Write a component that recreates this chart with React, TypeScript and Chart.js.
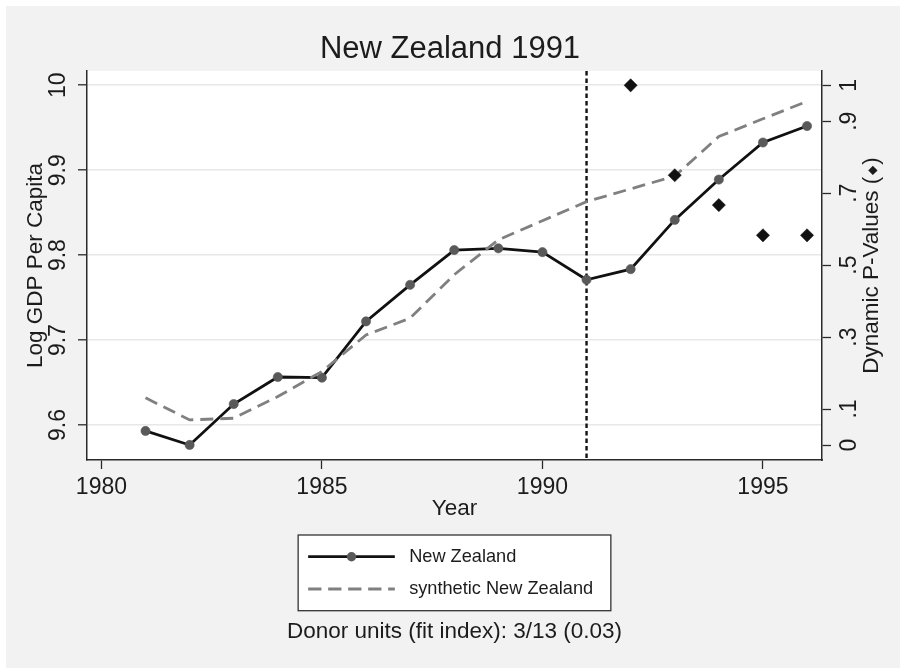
import React, { useEffect, useRef } from "react";
import { Chart, registerables } from "chart.js";

Chart.register(...registerables);

// ---------- data ----------
const years = [1981, 1982, 1983, 1984, 1985, 1986, 1987, 1988, 1989, 1990, 1991, 1992, 1993, 1994, 1995, 1996];
const newZealand = [9.593, 9.5765, 9.6247, 9.6565, 9.6557, 9.722, 9.765, 9.806, 9.808, 9.8035, 9.771, 9.7835, 9.8415, 9.889, 9.9326, 9.952];
const syntheticNewZealand = [9.632, 9.606, 9.608, 9.6335, 9.663, 9.706, 9.7258, 9.777, 9.818, 9.8405, 9.863, 9.878, 9.893, 9.9396, 9.9605, 9.981];
const pValueYears = [1992, 1993, 1994, 1995, 1996];
const pValues = [1, 0.75, 0.667, 0.583, 0.583];
const treatmentYear = 1991;

const xTickValues = [1980, 1985, 1990, 1995];
const yTickValues = [9.6, 9.7, 9.8, 9.9, 10];
const yTickLabels = ["9.6", "9.7", "9.8", "9.9", "10"];
const y2TickValues = [0, 0.1, 0.3, 0.5, 0.7, 0.9, 1];
const y2TickLabels = ["0", ".1", ".3", ".5", ".7", ".9", "1"];

const titleText = "New Zealand 1991";
const xTitle = "Year";
const yTitle = "Log GDP Per Capita";
const y2TitleParts = ["Dynamic P-Values (", "\u25C6", ")"];
const seriesNames = ["New Zealand", "synthetic New Zealand"];
const noteText = "Donor units (fit index): 3/13 (0.03)";

// ---------- style ----------
const FONT = '"Liberation Sans", Arial, Helvetica, sans-serif';
const TEXT = "#1c1c1c";
const AXIS = "#2a2a2a";
const TICK_SIZE = 23;
const AXIS_TITLE_SIZE = 22.5;
const TICK_LEN = 9;

function widest(labels: string[], size: number): number {
  const c = document.createElement("canvas").getContext("2d");
  if (!c) return 0;
  c.font = `${size}px ${FONT}`;
  return Math.max(...labels.map((l) => c.measureText(l).width));
}

export default function App() {
  const ref = useRef<HTMLCanvasElement | null>(null);

  useEffect(() => {
    const canvas = ref.current;
    if (!canvas) return;

    const leftGap = 28.6; // axis line to label centre
    const rightGap = 27.3;
    const padL = leftGap - TICK_LEN - widest(yTickLabels, TICK_SIZE) / 2;
    const padR = rightGap - TICK_LEN - widest(y2TickLabels, TICK_SIZE) / 2;

    const backgroundPlugin = {
      id: "bg",
      beforeDraw(chart: any) {
        const { ctx, chartArea } = chart;
        ctx.save();
        ctx.fillStyle = "#ffffff";
        ctx.fillRect(0, 0, chart.width, chart.height);
        ctx.fillStyle = "#f2f2f2";
        ctx.fillRect(6, 6, chart.width - 6, chart.height - 6);
        ctx.fillStyle = "#ffffff";
        ctx.fillRect(chartArea.left, chartArea.top, chartArea.right - chartArea.left, chartArea.bottom - chartArea.top);
        ctx.restore();
      },
    };

    const treatmentLinePlugin = {
      id: "treat",
      beforeDatasetsDraw(chart: any) {
        const { ctx, chartArea } = chart;
        const x = chart.scales.x.getPixelForValue(treatmentYear);
        ctx.save();
        ctx.strokeStyle = "#111111";
        ctx.lineWidth = 2.4;
        ctx.setLineDash([4.5, 3]);
        ctx.beginPath();
        ctx.moveTo(x, chartArea.top);
        ctx.lineTo(x, chartArea.bottom);
        ctx.stroke();
        ctx.restore();
      },
    };

    const extrasPlugin = {
      id: "extras",
      afterDraw(chart: any) {
        const { ctx, chartArea } = chart;
        const cx = (chartArea.left + chartArea.right) / 2;
        const cy = (chartArea.top + chartArea.bottom) / 2;
        ctx.save();
        // right axis title, reading bottom-to-top, with a small diamond glyph
        ctx.translate(872, cy);
        ctx.rotate(-Math.PI / 2);
        ctx.fillStyle = TEXT;
        ctx.textAlign = "left";
        ctx.textBaseline = "middle";
        const sizes = [AXIS_TITLE_SIZE, 12, AXIS_TITLE_SIZE];
        const widths = y2TitleParts.map((t, i) => {
          ctx.font = `${sizes[i]}px ${FONT}`;
          return ctx.measureText(t).width;
        });
        const gap = 1.5;
        const total = widths[0] + widths[1] + widths[2] + 2 * gap;
        let px = -total / 2;
        y2TitleParts.forEach((t, i) => {
          ctx.font = `${sizes[i]}px ${FONT}`;
          ctx.fillText(t, px, i === 1 ? 0.5 : 0);
          px += widths[i] + gap;
        });
        ctx.restore();

        // legend box
        const boxW = 312.7;
        const bx = cx - boxW / 2;
        const by = 535;
        const bh = 75.7;
        ctx.save();
        ctx.fillStyle = "#ffffff";
        ctx.fillRect(bx, by, boxW, bh);
        ctx.strokeStyle = "#333333";
        ctx.lineWidth = 1.3;
        ctx.strokeRect(bx, by, boxW, bh);

        const lx0 = bx + 10;
        const lx1 = bx + 96.7;
        const row1 = 556.7;
        const row2 = 589;
        ctx.lineWidth = 2.8;
        ctx.strokeStyle = "#111111";
        ctx.beginPath();
        ctx.moveTo(lx0, row1);
        ctx.lineTo(lx1, row1);
        ctx.stroke();
        ctx.fillStyle = "#595959";
        ctx.beginPath();
        ctx.arc((lx0 + lx1) / 2, row1, 4.7, 0, Math.PI * 2);
        ctx.fill();

        ctx.strokeStyle = "#808080";
        ctx.setLineDash([13.3, 6.7]);
        ctx.beginPath();
        ctx.moveTo(lx0, row2);
        ctx.lineTo(lx1, row2);
        ctx.stroke();
        ctx.setLineDash([]);

        ctx.fillStyle = TEXT;
        ctx.font = `18.2px ${FONT}`;
        ctx.textAlign = "left";
        ctx.textBaseline = "middle";
        ctx.fillText(seriesNames[0], bx + 111, row1);
        ctx.fillText(seriesNames[1], bx + 111, row2);

        // note
        ctx.font = `${AXIS_TITLE_SIZE}px ${FONT}`;
        ctx.textAlign = "center";
        ctx.fillText(noteText, cx, 632.2);
        ctx.restore();
      },
    };

    const tickFont = { family: FONT, size: TICK_SIZE };
    const titleFont = { family: FONT, size: AXIS_TITLE_SIZE, lineHeight: 1.2 };

    const chart = new Chart(canvas, {
      type: "line",
      data: {
        datasets: [
          {
            label: "p",
            data: pValueYears.map((x, i) => ({ x, y: pValues[i] })),
            yAxisID: "y2",
            showLine: false,
            pointStyle: "rectRot",
            pointRadius: 6.6,
            pointBackgroundColor: "#111111",
            pointBorderColor: "#111111",
            pointBorderWidth: 0.5,
            order: 0,
          },
          {
            label: seriesNames[1],
            data: years.map((x, i) => ({ x, y: syntheticNewZealand[i] })),
            yAxisID: "y",
            borderColor: "#808080",
            borderWidth: 2.8,
            borderDash: [13, 7],
            pointRadius: 0,
            tension: 0,
            order: 1,
          },
          {
            label: seriesNames[0],
            data: years.map((x, i) => ({ x, y: newZealand[i] })),
            yAxisID: "y",
            borderColor: "#111111",
            borderWidth: 2.8,
            pointRadius: 4.6,
            pointBackgroundColor: "#595959",
            pointBorderColor: "#595959",
            pointBorderWidth: 0.6,
            tension: 0,
            order: 2,
          },
        ],
      },
      options: {
        responsive: false,
        maintainAspectRatio: false,
        animation: false,
        devicePixelRatio: 1,
        layout: { padding: 0 },
        events: [],
        plugins: {
          legend: { display: false },
          tooltip: { enabled: false },
          title: {
            display: true,
            text: titleText,
            color: TEXT,
            font: { family: FONT, size: 31, weight: "normal", lineHeight: 1.2 },
            padding: { top: 30.4, bottom: 3.4 },
          },
        },
        scales: {
          x: {
            type: "linear",
            position: "bottom",
            min: 1979.673,
            max: 1996.339,
            afterBuildTicks: (s: any) => {
              s.ticks = xTickValues.map((v) => ({ value: v }));
            },
            afterFit: (s: any) => {
              s.height = 208;
            },
            grid: { display: true, drawOnChartArea: false, drawTicks: true, tickLength: TICK_LEN, tickColor: AXIS, tickWidth: 1.3 },
            border: { display: true, color: AXIS, width: 1.5 },
            ticks: { font: tickFont, color: TEXT, padding: 5, maxRotation: 0, minRotation: 0, autoSkip: false, callback: (v: any) => String(v) },
            title: { display: true, text: xTitle, color: TEXT, font: titleFont, padding: { top: 0, bottom: 145.8 } },
          },
          y: {
            type: "linear",
            position: "left",
            min: 9.5588,
            max: 10.0168,
            afterBuildTicks: (s: any) => {
              s.ticks = yTickValues.map((v) => ({ value: v }));
            },
            afterFit: (s: any) => {
              s.width = 87;
            },
            grid: { display: true, color: "#e8e8e8", lineWidth: 1.6, drawTicks: true, tickLength: TICK_LEN, tickColor: AXIS, tickWidth: 1.3 },
            border: { display: true, color: AXIS, width: 1.5 },
            ticks: {
              font: tickFont,
              color: TEXT,
              padding: padL,
              minRotation: 90,
              maxRotation: 90,
              crossAlign: "center",
              autoSkip: false,
              callback: (_v: any, i: number) => yTickLabels[i],
            },
            title: { display: true, text: yTitle, color: TEXT, font: titleFont, padding: { top: 21.8, bottom: 0 } },
          },
          y2: {
            type: "linear",
            position: "right",
            min: -0.0417,
            max: 1.0398,
            afterBuildTicks: (s: any) => {
              s.ticks = y2TickValues.map((v) => ({ value: v }));
            },
            afterFit: (s: any) => {
              s.width = 78;
            },
            grid: { display: true, drawOnChartArea: false, drawTicks: true, tickLength: TICK_LEN, tickColor: AXIS, tickWidth: 1.3 },
            border: { display: true, color: AXIS, width: 1.5 },
            ticks: {
              font: tickFont,
              color: TEXT,
              padding: padR,
              minRotation: 90,
              maxRotation: 90,
              crossAlign: "center",
              autoSkip: false,
              callback: (_v: any, i: number) => y2TickLabels[i],
            },
            title: { display: false },
          },
        },
      } as any,
      plugins: [backgroundPlugin, treatmentLinePlugin, extrasPlugin],
    });

    return () => chart.destroy();
  }, []);

  return (
    <div style={{ position: "absolute", left: 0, top: 0, width: 900, height: 668 }}>
      <canvas ref={ref} width={900} height={668} style={{ display: "block" }} />
    </div>
  );
}
